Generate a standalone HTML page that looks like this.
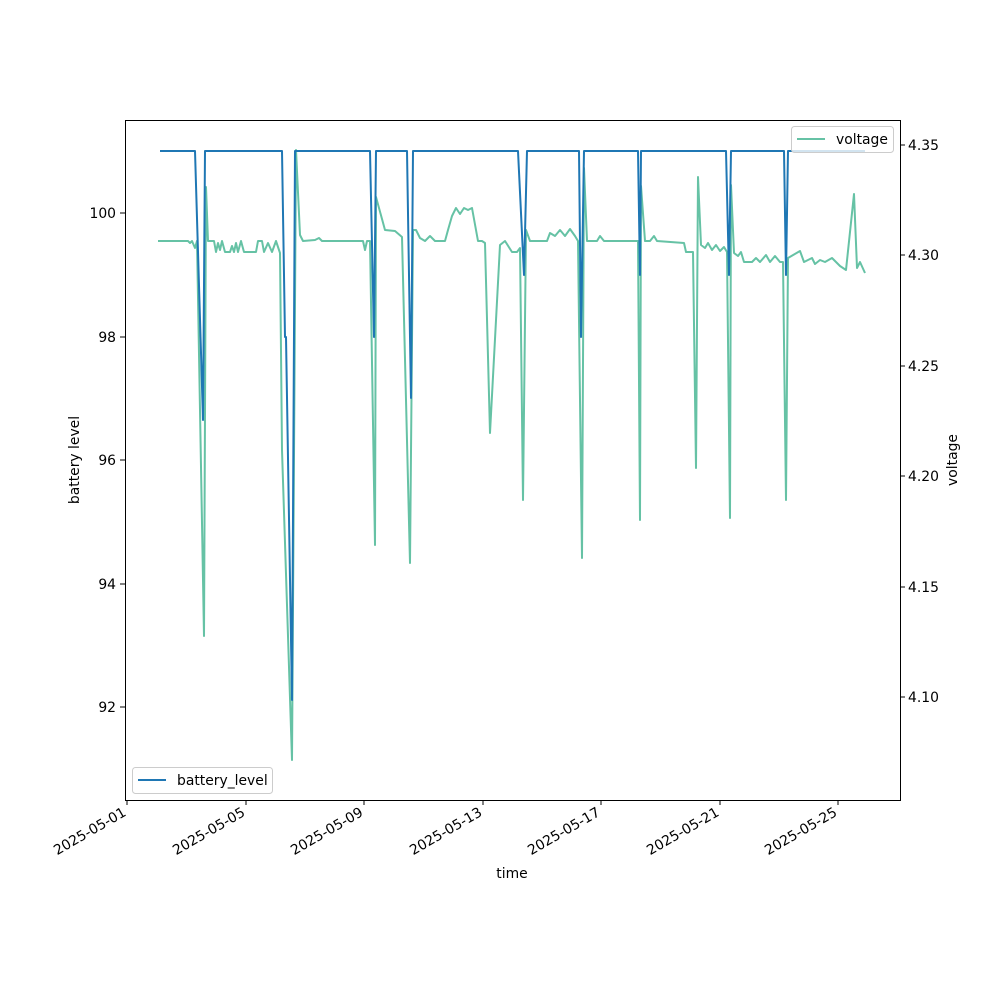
<!DOCTYPE html>
<html><head><meta charset="utf-8"><style>body{margin:0;background:#fff}</style></head><body>
<svg width="1000" height="1000" xmlns="http://www.w3.org/2000/svg" font-family="DejaVu Sans, Liberation Sans, sans-serif" font-size="13.9">
<rect width="1000" height="1000" fill="#fff"/>
<polyline fill="none" stroke="#66c2a5" stroke-width="2" stroke-linejoin="round" points="158,241 188,241 190,243 192,241 195,248 197,241 204,636 206,187 208,241 214,241 216,252 218,243 220,250 222,241 225,252 230,252 232,246 234,252 236,243 238,252 241,241 244,252 256,252 258,241 262,241 264,252 268,243 272,252 276,241 280,253 282,450 292,760 296,150 300,235 303,241 315,240 319,238 322,241 363,241 365,250 367,241 370,241 375,545 376,197 385,230 395,231 402,237 410,563 413,230 416,230 420,238 425,241 430,236 435,241 445,241 448,230 452,216 456,208 460,214 464,208 468,210 472,208 476,230 478,241 482,241 485,243 490,433 500,245 505,241 512,252 517,252 520,248 523,500 526,230 530,241 547,241 550,233 555,236 560,230 565,236 570,229 575,236 578,241 582,558 584,168 587,241 597,241 600,236 604,241 638,241 640,520 641,186 645,241 650,241 654,236 657,241 684,243 686,252 693,252 696,468 698,177 701,245 705,248 708,243 712,250 716,245 720,251 724,247 727,252 730,518 731,185 734,253 738,256 741,252 744,262 752,262 756,258 760,262 766,255 770,262 775,256 780,262 783,262 786,500 788,258 800,251 804,262 808,260 812,258 815,264 820,260 825,262 832,258 840,266 846,270 854,194 857,268 860,262 865,273"/>
<polyline fill="none" stroke="#1f77b4" stroke-width="2" stroke-linejoin="round" points="160,151 195,151 203,420 205,151 282,151 285,337 286,337 292,700 295,151 370,151 374,337 376,151 407,151 410,337 411,398 413,151 518,151 524,275 527,151 579,151 581,337 584,151 638,151 640,275 641,151 726,151 729,275 731,151 784,151 786,275 788,151 865,151"/>
<rect x="125.5" y="120.5" width="775" height="680" fill="none" stroke="#000" stroke-width="1"/>
<g stroke="#000">
<line x1="120" y1="707" x2="125" y2="707"/><line x1="120" y1="584" x2="125" y2="584"/><line x1="120" y1="460" x2="125" y2="460"/><line x1="120" y1="337" x2="125" y2="337"/><line x1="120" y1="213" x2="125" y2="213"/>
<line x1="900" y1="697" x2="905" y2="697"/><line x1="900" y1="587" x2="905" y2="587"/><line x1="900" y1="476" x2="905" y2="476"/><line x1="900" y1="366" x2="905" y2="366"/><line x1="900" y1="255" x2="905" y2="255"/><line x1="900" y1="145" x2="905" y2="145"/>
<line x1="127" y1="800" x2="127" y2="805"/><line x1="246" y1="800" x2="246" y2="805"/><line x1="364" y1="800" x2="364" y2="805"/><line x1="483" y1="800" x2="483" y2="805"/><line x1="601" y1="800" x2="601" y2="805"/><line x1="720" y1="800" x2="720" y2="805"/><line x1="838" y1="800" x2="838" y2="805"/>
</g>
<g text-anchor="end">
<text x="116" y="712">92</text><text x="116" y="589">94</text><text x="116" y="465">96</text><text x="116" y="342">98</text><text x="116" y="218">100</text>
</g>
<g>
<text x="908" y="702">4.10</text><text x="908" y="592">4.15</text><text x="908" y="481">4.20</text><text x="908" y="371">4.25</text><text x="908" y="260">4.30</text><text x="908" y="150">4.35</text>
</g>
<g text-anchor="end">
<text transform="translate(127,815) rotate(-30)">2025-05-01</text>
<text transform="translate(246,815) rotate(-30)">2025-05-05</text>
<text transform="translate(364,815) rotate(-30)">2025-05-09</text>
<text transform="translate(483,815) rotate(-30)">2025-05-13</text>
<text transform="translate(601,815) rotate(-30)">2025-05-17</text>
<text transform="translate(720,815) rotate(-30)">2025-05-21</text>
<text transform="translate(838,815) rotate(-30)">2025-05-25</text>
</g>
<text x="512" y="878" text-anchor="middle">time</text>
<text transform="translate(79,460) rotate(-90)" text-anchor="middle">battery level</text>
<text transform="translate(957,460) rotate(-90)" text-anchor="middle">voltage</text>
<rect x="132.5" y="767.5" width="140" height="26" rx="3" fill="#fff" fill-opacity="0.8" stroke="#ccc"/>
<line x1="138" y1="780" x2="166" y2="780" stroke="#1f77b4" stroke-width="2"/>
<text x="177" y="785">battery_level</text>
<rect x="791.5" y="126.5" width="102" height="26" rx="3" fill="#fff" fill-opacity="0.8" stroke="#ccc"/>
<line x1="797" y1="139" x2="825" y2="139" stroke="#66c2a5" stroke-width="2"/>
<text x="836" y="144">voltage</text>
</svg>
</body></html>
